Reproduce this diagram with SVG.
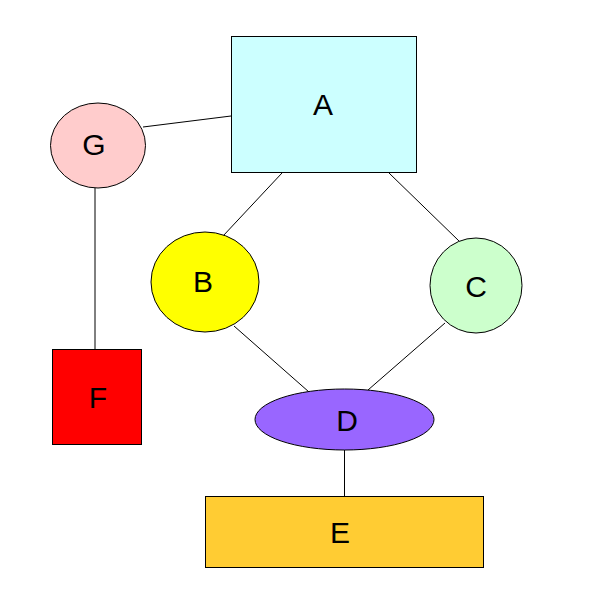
<svg xmlns="http://www.w3.org/2000/svg" width="600" height="600" viewBox="0 0 600 600">
<style>
.node{stroke:#000;stroke-width:1}
.lbl{font-family:"Liberation Sans",Arial,sans-serif;font-size:30px;fill:#000;text-anchor:middle;dominant-baseline:central}
.edge{stroke:#000;stroke-width:1;fill:none}
</style>
<rect width="600" height="600" fill="#fff"/>
<g id="connectors">
<line class="edge" x1="143" y1="127" x2="231" y2="116"/>
<line class="edge" x1="95" y1="188" x2="95" y2="349"/>
<line class="edge" x1="282" y1="173" x2="223" y2="236"/>
<line class="edge" x1="389" y1="173" x2="459" y2="241"/>
<line class="edge" x1="234" y1="326" x2="309" y2="392"/>
<line class="edge" x1="445" y1="323" x2="368" y2="390"/>
<line class="edge" x1="344.5" y1="450" x2="344.5" y2="497"/>
</g>
<g id="A"><rect class="node" x="231.5" y="36.5" width="185" height="136" fill="#CCFFFF"/><text class="lbl" x="323" y="104">A</text></g>
<g id="G"><ellipse class="node" cx="98" cy="145.5" rx="47.5" ry="42.5" fill="#FFCCCC"/><text class="lbl" x="94" y="144">G</text></g>
<g id="B"><ellipse class="node" cx="205" cy="282" rx="54" ry="50" fill="#FFFF00"/><text class="lbl" x="203" y="281">B</text></g>
<g id="C"><ellipse class="node" cx="476" cy="285.5" rx="46" ry="47.5" fill="#CCFFCC"/><text class="lbl" x="476" y="286">C</text></g>
<g id="D"><ellipse class="node" cx="344.5" cy="419.5" rx="89.5" ry="30.5" fill="#9966FF"/><text class="lbl" x="347" y="420">D</text></g>
<g id="E"><rect class="node" x="205.5" y="496.5" width="278" height="71" fill="#FFCC33"/><text class="lbl" x="340" y="532">E</text></g>
<g id="F"><rect class="node" x="52.5" y="349.5" width="89" height="95" fill="#FF0000"/><text class="lbl" x="98" y="397">F</text></g>
</svg>
